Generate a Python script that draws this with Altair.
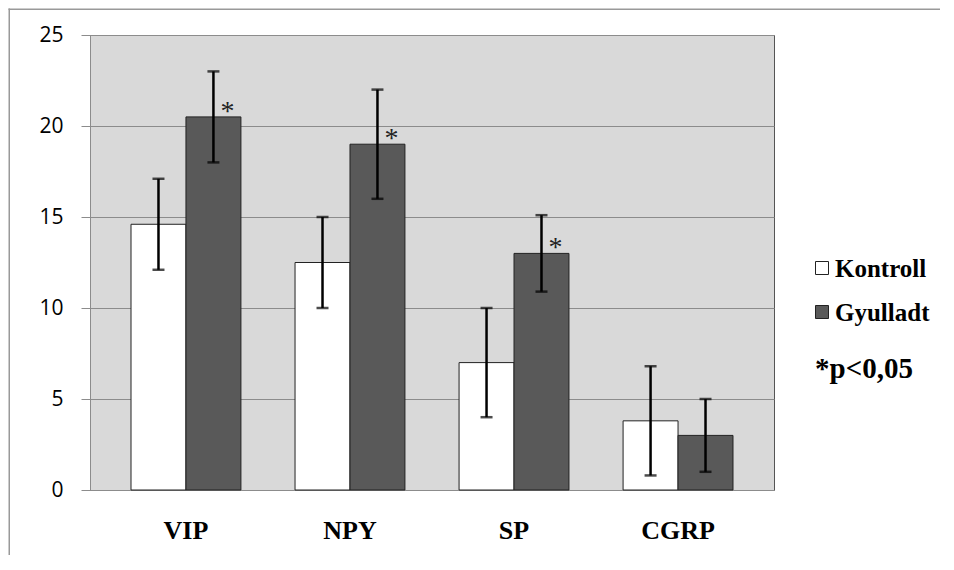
import altair as alt
import pandas as pd

categories = ["VIP", "NPY", "SP", "CGRP"]
groups = ["Kontroll", "Gyulladt"]
group_colors = ["#ffffff", "#595959"]
kontroll_mean = [14.6, 12.5, 7.0, 3.8]
kontroll_lo = [12.1, 10.0, 4.0, 0.8]
kontroll_hi = [17.1, 15.0, 10.0, 6.8]
gyulladt_mean = [20.5, 19.0, 13.0, 3.0]
gyulladt_lo = [18.0, 16.0, 10.9, 1.0]
gyulladt_hi = [23.0, 22.0, 15.1, 5.0]
significant = [True, True, True, False]
y_ticks = [0, 5, 10, 15, 20, 25]
note = ["*p<0,05"]

rows = []
for i, c in enumerate(categories):
    rows.append({"cat": c, "group": "Kontroll", "mean": kontroll_mean[i],
                 "lo": kontroll_lo[i], "hi": kontroll_hi[i], "sig": False})
    rows.append({"cat": c, "group": "Gyulladt", "mean": gyulladt_mean[i],
                 "lo": gyulladt_lo[i], "hi": gyulladt_hi[i], "sig": significant[i]})
df = pd.DataFrame(rows)

SERIF = "Liberation Serif"

x = alt.X("cat:N", sort=categories,
          scale=alt.Scale(paddingInner=0.33, paddingOuter=0.25),
          axis=alt.Axis(title=None, labelAngle=0, ticks=False, tickSize=0,
                        domainColor="#8c8c8c", labelFont=SERIF,
                        labelFontWeight="bold", labelFontSize=26, labelColor="#000",
                        labelBaseline="alphabetic", labelPadding=48))
xo = alt.XOffset("group:N", sort=groups, scale=alt.Scale(paddingInner=0, paddingOuter=0))
yscale = alt.Scale(domain=[0, 25], nice=False)
color_scale = alt.Scale(domain=groups, range=group_colors)

base = alt.Chart(df)

bars = base.mark_bar(stroke="#222", strokeWidth=1).encode(
    x=x, xOffset=xo,
    y=alt.Y("mean:Q", scale=yscale,
            axis=alt.Axis(title=None, values=y_ticks, grid=True, gridColor="#8c8c8c",
                          domainColor="#8c8c8c", tickColor="#8c8c8c", tickSize=9,
                          labelPadding=18, labelFont="Open Sans", labelFontSize=21,
                          labelColor="#000")),
    color=alt.Color("group:N", sort=groups, scale=color_scale, legend=None),
)

rules = base.mark_rule(color="#000", strokeWidth=2.5).encode(
    x=x, xOffset=xo, y=alt.Y("lo:Q", scale=yscale), y2="hi:Q")
cap_lo = base.mark_tick(color="#000", thickness=2.5, size=12).encode(
    x=x, xOffset=xo, y=alt.Y("lo:Q", scale=yscale))
cap_hi = base.mark_tick(color="#000", thickness=2.5, size=12).encode(
    x=x, xOffset=xo, y=alt.Y("hi:Q", scale=yscale))

stars = base.transform_filter("datum.sig").mark_text(
    text="*", font=SERIF, fontSize=28,
    baseline="alphabetic", dx=14, dy=3, color="#222").encode(
    x=x, xOffset=xo, y=alt.Y("mean:Q", scale=yscale))

# manual legend (one layer per entry, laid out beside the plot)
legend_layers = []
for i, g in enumerate(groups):
    gdf = pd.DataFrame({"group": [g]})
    ycen = 233 + 44 * i
    sq = alt.Chart(gdf).mark_square(size=169, filled=True, stroke="#222",
                                    strokeWidth=1, opacity=1).encode(
        x=alt.value(732), y=alt.value(ycen),
        fill=alt.Fill("group:N", scale=color_scale, legend=None))
    tx = alt.Chart(gdf).mark_text(font=SERIF, fontWeight="bold", fontSize=25,
                                  align="left", baseline="middle", color="#000").encode(
        text="group:N", x=alt.value(745), y=alt.value(ycen + 1))
    legend_layers += [sq, tx]

note_layer = alt.Chart(pd.DataFrame({"t": note})).mark_text(
    font=SERIF, fontWeight="bold", fontSize=29, align="left",
    baseline="alphabetic", color="#000").encode(
    text="t:N", x=alt.value(725), y=alt.value(343))

frame_data = pd.DataFrame({"a": [0]})
frame_top = alt.Chart(frame_data).mark_rect(color="#999", strokeWidth=0).encode(
    x=alt.value(-81.5), x2=alt.value(850), y=alt.value(-26.5), y2=alt.value(-25))
frame_left = alt.Chart(frame_data).mark_rect(color="#999", strokeWidth=0).encode(
    x=alt.value(-81.5), x2=alt.value(-80), y=alt.value(-26.5), y2=alt.value(520))

chart = alt.layer(frame_top, frame_left, bars, rules, cap_lo, cap_hi, stars, note_layer,
                  *legend_layers).properties(
    width=684, height=455,
    autosize=alt.AutoSizeParams(type="none"),
    padding={"left": 82, "top": 27, "right": 166, "bottom": 66},
).configure_view(fill="#d9d9d9", stroke="#555", strokeWidth=1)

chart.save("out.html", embed_options={"renderer": "svg", "actions": False})
